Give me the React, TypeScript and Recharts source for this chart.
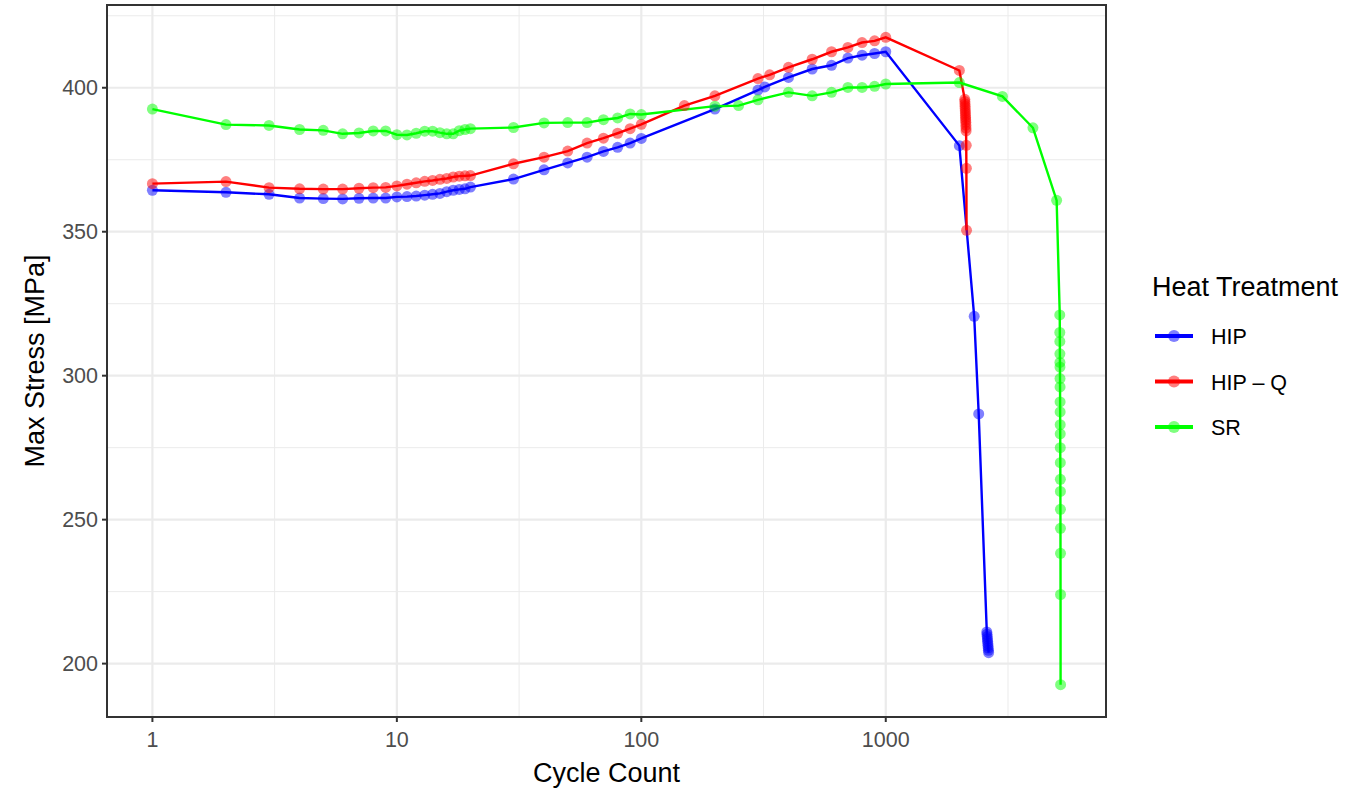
import React from 'react'
import {
  ComposedChart,
  Line,
  Scatter,
  XAxis,
  YAxis,
  CartesianGrid,
  ReferenceArea,
  Legend,
  Label,
} from 'recharts'

// Cycle counts and peak stress per heat treatment
const hipCycles = [
  1, 2, 3, 4, 5, 6, 7, 8, 9, 10, 11, 12, 13, 14, 15, 16, 17, 18, 19, 20,
  30, 40, 50, 60, 70, 80, 90, 100, 200, 300, 320, 400, 500, 600, 700, 800, 900, 1000,
  2000, 2300, 2400, 2590, 2595, 2600, 2605, 2610, 2615, 2620, 2625, 2630, 2635,
]
const hipStress = [
  364.4, 363.7, 363.0, 361.7, 361.5, 361.4, 361.6, 361.7, 361.7, 362.1, 362.2, 362.4, 362.7, 363.0, 363.3, 363.9, 364.4, 364.7, 364.9, 365.5,
  368.3, 371.5, 373.9, 375.9, 377.9, 379.3, 380.8, 382.4, 392.6, 399.2, 400.3, 403.6, 406.5, 407.8, 410.3, 411.3, 411.9, 412.5,
  379.9, 320.6, 286.7, 211.0, 210.2, 209.4, 208.6, 207.8, 207.0, 206.2, 205.4, 204.6, 203.8,
]

const hipqCycles = [
  1, 2, 3, 4, 5, 6, 7, 8, 9, 10, 11, 12, 13, 14, 15, 16, 17, 18, 19, 20,
  30, 40, 50, 60, 70, 80, 90, 100, 150, 200, 300, 335, 400, 500, 600, 700, 800, 900, 1000,
  2000, 2105, 2107, 2109, 2111, 2113, 2115, 2117, 2119, 2121, 2123, 2125, 2127, 2129, 2131, 2134, 2137, 2140,
]
const hipqStress = [
  366.7, 367.4, 365.3, 364.9, 364.8, 364.8, 365.1, 365.3, 365.4, 365.9, 366.5, 367.0, 367.5, 367.8, 368.2, 368.5, 369.0, 369.3, 369.4, 369.5,
  373.6, 375.9, 378.0, 380.8, 382.5, 384.2, 385.8, 387.3, 393.8, 397.2, 403.2, 404.5, 407.1, 409.9, 412.5, 414.0, 415.7, 416.3, 417.5,
  406.0, 396.0, 395.2, 394.4, 393.6, 392.8, 392.0, 391.2, 390.4, 389.6, 388.8, 388.0, 387.0, 386.0, 385.0, 380.0, 372.0, 350.5,
]

const srCycles = [
  1, 2, 3, 4, 5, 6, 7, 8, 9, 10, 11, 12, 13, 14, 15, 16, 17, 18, 19, 20,
  30, 40, 50, 60, 70, 80, 90, 100, 200, 250, 300, 400, 500, 600, 700, 800, 900, 1000,
  2000, 3000, 4000, 5000,
  5150, 5152, 5154, 5156, 5158, 5160, 5162, 5164, 5166, 5168, 5170, 5172, 5174, 5176, 5178, 5180, 5182, 5184, 5186, 5188, 5190,
]
const srStress = [
  392.6, 387.2, 386.9, 385.5, 385.2, 384.0, 384.3, 385.0, 385.0, 383.7, 383.6, 384.2, 384.9, 384.9, 384.4, 384.0, 384.0, 385.1, 385.5, 385.8,
  386.2, 387.8, 387.9, 387.9, 388.9, 389.5, 390.9, 390.7, 393.6, 393.8, 395.8, 398.4, 397.2, 398.4, 400.1, 400.1, 400.5, 401.3,
  401.8, 397.0, 386.1, 360.9,
  321.1, 315.0, 311.9, 307.6, 304.6, 303.0, 299.0, 296.1, 290.9, 287.4, 283.0, 279.8, 275.0, 269.8, 264.0, 259.8, 253.6, 247.0, 238.3, 224.0, 192.7,
]

const xTicks = [1, 10, 100, 1000]
const xMinorTicks = [10 ** 0.5, 10 ** 1.5, 10 ** 2.5, 10 ** 3.5]
const yTicks = [200, 250, 300, 350, 400]
const yMinorTicks = [225, 275, 325, 375, 425]

const zip = (xs: number[], ys: number[]) => xs.map((x, i) => ({ x, y: ys[i] }))

const series = [
  { name: 'HIP', color: '#0000FF', data: zip(hipCycles, hipStress) },
  { name: 'HIP – Q', color: '#FF0000', data: zip(hipqCycles, hipqStress) },
  { name: 'SR', color: '#00FF00', data: zip(srCycles, srStress) },
]

// ggplot-style 5% padding, on the log scale for x
const allX = [...hipCycles, ...hipqCycles, ...srCycles]
const allY = [...hipStress, ...hipqStress, ...srStress]
const lxMin = Math.log10(Math.min(...allX))
const lxMax = Math.log10(Math.max(...allX))
const lxPad = (lxMax - lxMin) * 0.05
const xDomain: [number, number] = [10 ** (lxMin - lxPad), 10 ** (lxMax + lxPad)]
const yMin = Math.min(...allY)
const yMax = Math.max(...allY)
const yPad = (yMax - yMin) * 0.05
const yDomain: [number, number] = [yMin - yPad, yMax + yPad]

const FONT = "'Liberation Sans', Arial, Helvetica, sans-serif"
const GRID = '#EBEBEB'
const DARK = '#333333'

const HeatLegend = () => (
  <svg width={212} height={190} style={{ fontFamily: FONT }}>
    <text x={12} y={36} fontSize={27} fill="#000">
      Heat Treatment
    </text>
    {series.map((s, i) => {
      const cy = 76 + i * 45.5
      return (
        <g key={s.name}>
          <line x1={15} x2={53} y1={cy} y2={cy} stroke={s.color} strokeWidth={4} />
          <circle cx={34} cy={cy} r={6} fill={s.color} fillOpacity={0.5} />
          <text x={71} y={cy + 8} fontSize={21.5} fill="#000">
            {s.name}
          </text>
        </g>
      )
    })}
  </svg>
)

export default function App() {
  return (
    <div style={{ position: 'absolute', left: 0, top: 0, width: 1352, height: 788, background: '#fff', fontFamily: FONT }}>
      <ComposedChart width={1352} height={788} margin={{ top: 5, right: 246, bottom: 0, left: 0 }}>
        <CartesianGrid stroke={GRID} strokeWidth={1} horizontalValues={yMinorTicks} verticalValues={xMinorTicks} />
        <CartesianGrid stroke={GRID} strokeWidth={2.2} horizontalValues={yTicks} verticalValues={xTicks} />
        <XAxis
          dataKey="x"
          type="number"
          scale="log"
          domain={xDomain}
          allowDataOverflow
          ticks={xTicks}
          interval={0}
          tickFormatter={(v: number) => String(v)}
          height={71}
          axisLine={false}
          tickSize={5}
          tickMargin={10}
          tickLine={{ stroke: DARK, strokeWidth: 2 }}
          tick={{ fill: '#4D4D4D', fontSize: 21.5, fontFamily: FONT }}
        >
          <Label
            content={({ viewBox }: any) => (
              <text
                x={viewBox.x + viewBox.width / 2}
                y={viewBox.y + 65}
                textAnchor="middle"
                fontSize={27}
                fontFamily={FONT}
                fill="#000"
              >
                Cycle Count
              </text>
            )}
          />
        </XAxis>
        <YAxis
          dataKey="y"
          type="number"
          domain={yDomain}
          allowDataOverflow
          ticks={yTicks}
          interval={0}
          width={107}
          axisLine={false}
          tickSize={5}
          tickMargin={4}
          tickLine={{ stroke: DARK, strokeWidth: 2 }}
          tick={{ fill: '#4D4D4D', fontSize: 21.5, fontFamily: FONT }}
        >
          <Label
            content={({ viewBox }: any) => {
              const cx = viewBox.x + 44
              const cy = viewBox.y + viewBox.height / 2
              return (
                <text
                  x={cx}
                  y={cy}
                  transform={`rotate(-90, ${cx}, ${cy})`}
                  textAnchor="middle"
                  fontSize={27}
                  fontFamily={FONT}
                  fill="#000"
                >
                  Max Stress [MPa]
                </text>
              )
            }}
          />
        </YAxis>
        {series.map((s) => (
          <Line
            key={`line-${s.name}`}
            data={s.data}
            dataKey="y"
            type="linear"
            stroke={s.color}
            strokeWidth={2.4}
            dot={false}
            activeDot={false}
            isAnimationActive={false}
            legendType="none"
          />
        ))}
        {series.map((s) => (
          <Scatter
            key={`pts-${s.name}`}
            data={s.data}
            dataKey="y"
            isAnimationActive={false}
            legendType="none"
            shape={(p: any) => <circle cx={p.cx} cy={p.cy} r={5.5} fill={s.color} fillOpacity={0.5} />}
          />
        ))}
        <ReferenceArea
          x1={xDomain[0]}
          x2={xDomain[1]}
          y1={yDomain[0]}
          y2={yDomain[1]}
          fill="none"
          stroke={DARK}
          strokeWidth={2}
          ifOverflow="visible"
        />
        <Legend
          layout="vertical"
          align="center"
          verticalAlign="middle"
          content={() => <HeatLegend />}
          wrapperStyle={{ left: 1140, top: 260, width: 212, height: 190 }}
        />
      </ComposedChart>
    </div>
  )
}
